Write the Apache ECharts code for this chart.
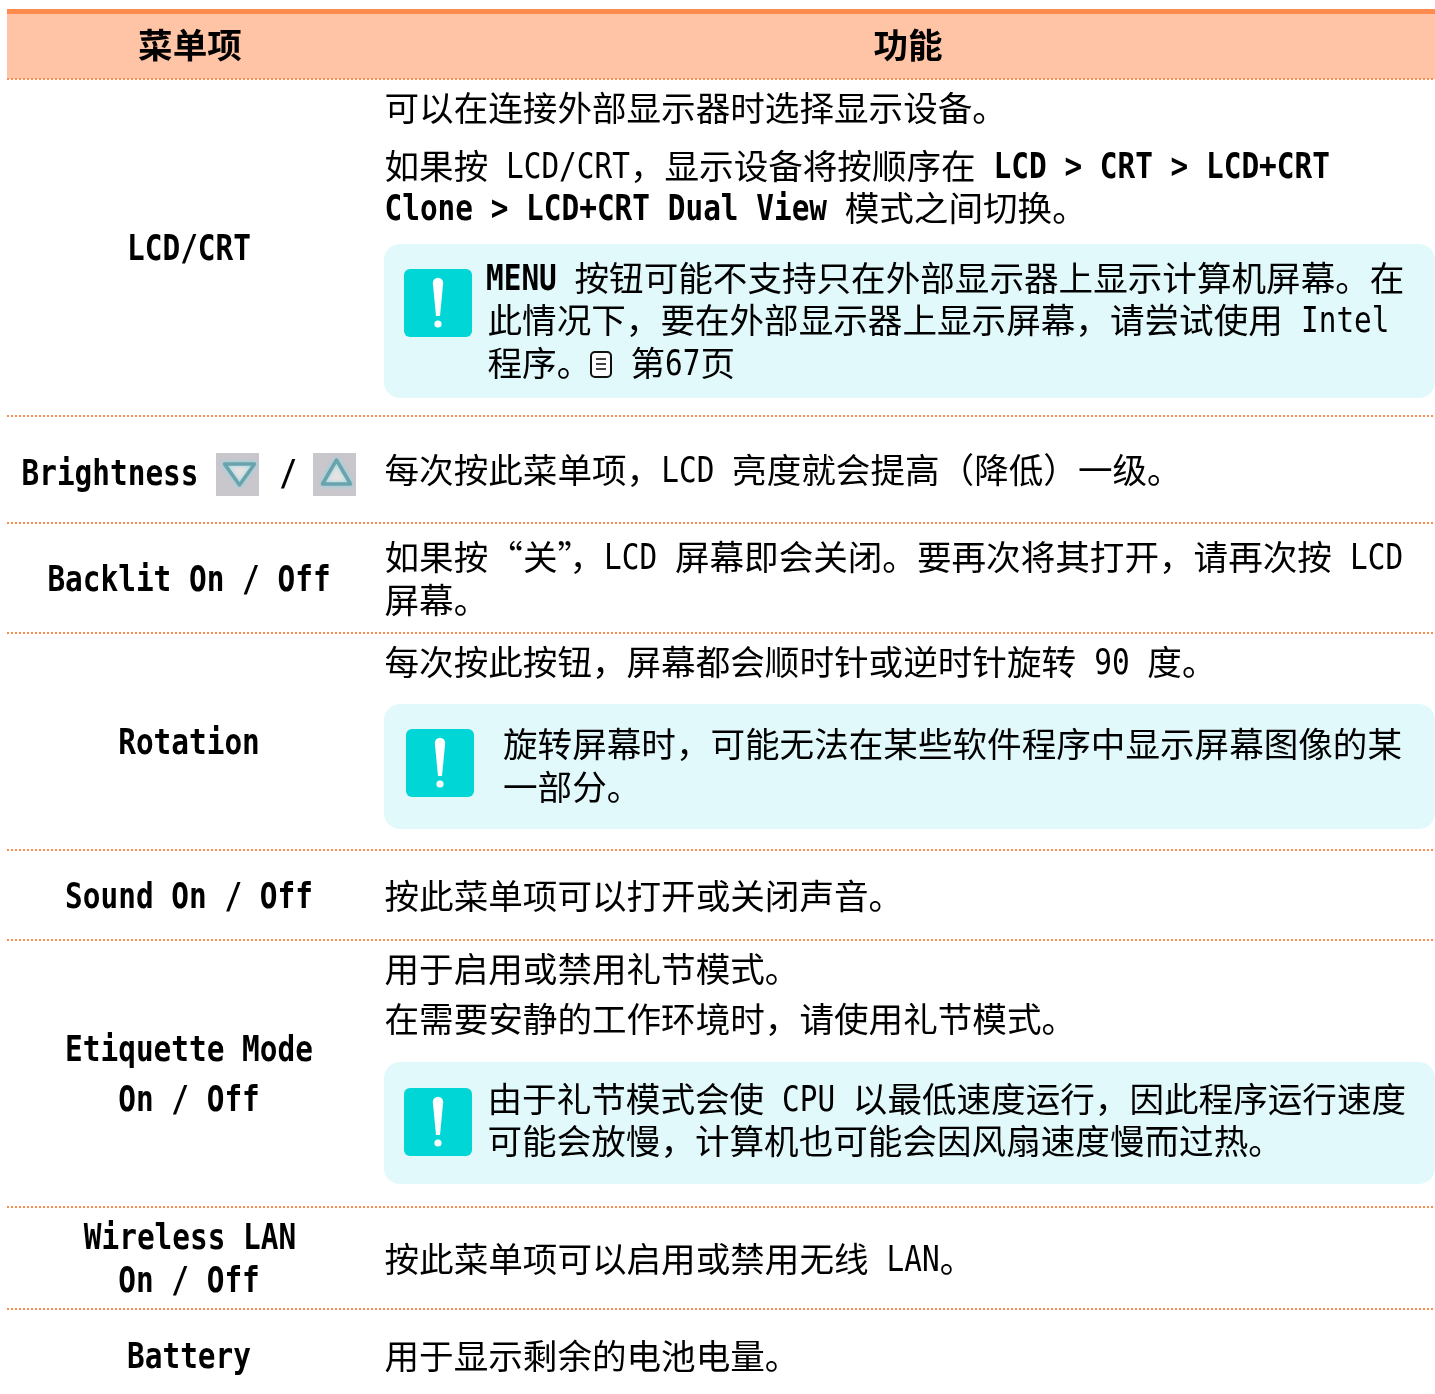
<!DOCTYPE html>
<html>
<head>
<meta charset="utf-8">
<title>menu table</title>
<style>
    html, body { margin: 0; padding: 0; background: #fff; }
    #main { width: 1435px; height: 1394px; }
</style>
<script src="https://cdn.jsdelivr.net/npm/echarts@6/dist/echarts.min.js"></script>
</head>
<body>
<div id="main"></div>
<script>
var headers = ['菜单项', '功能'];
var menuItems = ['LCD/CRT', 'Brightness', '/', 'Backlit On / Off', 'Rotation', 'Sound On / Off',
    'Etiquette Mode', 'On / Off', 'Wireless LAN', 'On / Off', 'Battery'];
var descLines = [
    '可以在连接外部显示器时选择显示设备。',
    '如果按 LCD/CRT，显示设备将按顺序在 LCD > CRT > LCD+CRT',
    'Clone > LCD+CRT Dual View 模式之间切换。',
    '每次按此菜单项，LCD 亮度就会提高（降低）一级。',
    '如果按“关”，LCD 屏幕即会关闭。要再次将其打开，请再次按 LCD',
    '屏幕。',
    '每次按此按钮，屏幕都会顺时针或逆时针旋转 90 度。',
    '按此菜单项可以打开或关闭声音。',
    '用于启用或禁用礼节模式。',
    '在需要安静的工作环境时，请使用礼节模式。',
    '按此菜单项可以启用或禁用无线 LAN。',
    '用于显示剩余的电池电量。'
];
var noteLines = [
    'MENU 按钮可能不支持只在外部显示器上显示计算机屏幕。在',
    '此情况下，要在外部显示器上显示屏幕，请尝试使用 Intel',
    '程序。',
    '第67页',
    '旋转屏幕时，可能无法在某些软件程序中显示屏幕图像的某',
    '一部分。',
    '由于礼节模式会使 CPU 以最低速度运行，因此程序运行速度',
    '可能会放慢，计算机也可能会因风扇速度慢而过热。'
];
var boldPhrases = ['LCD > CRT > LCD+CRT', 'Clone > LCD+CRT Dual View', 'MENU'];

// layout, kept apart from the text above
var menuCenterX = [189, 110, 288, 189, 189, 189, 189, 189, 190, 189, 189];
var menuY = [248, 473, 473, 579, 742, 896, 1049, 1099, 1237, 1280, 1356];
var descY = [108, 166, 208, 470, 557, 600, 662, 896, 969, 1019, 1259, 1356];
var noteX = [486, 487.5, 487.5, 630.5, 503, 503, 487.5, 487.5];
var noteY = [278, 320, 363, 363, 744, 787, 1099, 1141];
var ruleY = [79, 416, 523, 633, 850, 940, 1207, 1309];
var noteBoxes = [[244, 154], [704, 125], [1062, 122]];
var noteIcons = [[404, 269], [406, 729], [404, 1088]];

var ORANGE = '#ff8c4e';
var CJK_FONT = '"Noto Sans CJK SC"';
var LATIN_FONT = '"DejaVu Sans Mono"';
var CJK_SIZE = 34.6;
var LATIN_SIZE = 36;
var LATIN_ADV = 17.7;
var LATIN_DY = 3;
var QUOTE_ADV = { '“': 34.6, '”': 12 };

function isWide(ch) {
    return /[\u3000-\u30ff\u4e00-\u9fff\uff00-\uffef]/.test(ch);
}

// one text line -> runs of wide (CJK) or half width (latin) characters
function splitRuns(str, bold) {
    var runs = [];
    for (var i = 0; i < str.length; i++) {
        var wide = isWide(str[i]);
        var quote = !!QUOTE_ADV[str[i]];
        var last = runs[runs.length - 1];
        if (last && last.wide === wide && !quote && !last.quote) {
            last.text += str[i];
        } else {
            runs.push({ text: str[i], wide: wide, bold: bold, quote: quote });
        }
    }
    return runs;
}

function lineRuns(str, allBold) {
    if (allBold) return splitRuns(str, true);
    var runs = [];
    var rest = str;
    while (rest.length) {
        var hit = -1, phrase = '';
        boldPhrases.forEach(function (p) {
            var at = rest.indexOf(p);
            if (at >= 0 && (hit < 0 || at < hit)) { hit = at; phrase = p; }
        });
        if (hit < 0) {
            runs = runs.concat(splitRuns(rest, false));
            break;
        }
        runs = runs.concat(splitRuns(rest.slice(0, hit), false));
        runs = runs.concat(splitRuns(phrase, true));
        rest = rest.slice(hit + phrase.length);
    }
    return runs;
}

function runWidth(run) {
    if (run.quote) return QUOTE_ADV[run.text];
    if (run.wide) return run.text.length * CJK_SIZE;
    return run.text.length * LATIN_ADV;
}

function textEls(str, x, y, allBold) {
    var els = [];
    lineRuns(str, allBold).forEach(function (run) {
        var blank = !run.text.trim();
        if (!blank && (run.wide || run.quote)) {
            els.push({
                type: 'text', x: x, y: y,
                style: {
                    text: run.text, fill: '#000',
                    fontFamily: CJK_FONT, fontSize: CJK_SIZE, fontWeight: run.bold ? 'bold' : 'normal',
                    textAlign: 'left', textVerticalAlign: 'middle'
                }
            });
        } else if (!blank) {
            els.push({
                type: 'text', x: x, y: y + LATIN_DY,
                scaleX: LATIN_ADV / (LATIN_SIZE * 0.602),
                style: {
                    text: run.text, fill: '#000',
                    fontFamily: LATIN_FONT, fontSize: LATIN_SIZE, fontWeight: run.bold ? 'bold' : 'normal',
                    textAlign: 'left', textVerticalAlign: 'middle'
                }
            });
        }
        x += runWidth(run);
    });
    return els;
}

function centerEls(str, cx, y) {
    var w = 0;
    lineRuns(str, true).forEach(function (r) { w += runWidth(r); });
    return textEls(str, cx - w / 2, y, true);
}

function noteIcon(x, y) {
    return [
        { type: 'rect', shape: { x: x, y: y, width: 68, height: 68, r: 6 }, style: { fill: '#00d6d6' } },
        { type: 'circle', shape: { cx: x + 34, cy: y + 14, r: 5.2 }, style: { fill: '#fff' } },
        {
            type: 'polygon',
            shape: { points: [[x + 28.8, y + 14], [x + 39.2, y + 14], [x + 36, y + 47], [x + 32, y + 47]] },
            style: { fill: '#fff' }
        },
        { type: 'circle', shape: { cx: x + 34, cy: y + 55, r: 3.6 }, style: { fill: '#fff' } }
    ];
}

function arrowButton(x, y, down) {
    var pts = down ? [[x + 8.5, y + 11], [x + 38.5, y + 11], [x + 23.5, y + 32]]
                   : [[x + 9.5, y + 31], [x + 37.5, y + 31], [x + 23.5, y + 7]];
    return [
        { type: 'rect', shape: { x: x, y: y, width: 43, height: 43 }, style: { fill: '#c9c6cc' } },
        {
            type: 'polygon', shape: { points: pts },
            style: { fill: '#e8e2e2', stroke: '#6ba3ac', lineWidth: 3.5, lineJoin: 'round', shadowBlur: 4, shadowColor: '#8fd8e4' }
        }
    ];
}

function docIcon(x, y) {
    var els = [{ type: 'rect', shape: { x: x, y: y, width: 20, height: 25, r: 4 }, style: { fill: '#fff', stroke: '#111', lineWidth: 2 } }];
    [7, 12, 17].forEach(function (dy) {
        els.push({ type: 'line', shape: { x1: x + 5, y1: y + dy, x2: x + 15, y2: y + dy }, style: { stroke: '#111', lineWidth: 1.6 } });
    });
    return els;
}

var elements = [];
elements.push({ type: 'rect', shape: { x: 7, y: 9, width: 1428, height: 70 }, style: { fill: '#ffc3a5' } });
elements.push({ type: 'rect', shape: { x: 7, y: 9, width: 1428, height: 5 }, style: { fill: ORANGE } });

ruleY.forEach(function (y) {
    elements.push({
        type: 'line', shape: { x1: 7, y1: y, x2: 1435, y2: y },
        style: { stroke: ORANGE, lineWidth: 2, lineDash: [2, 2] }
    });
});

noteBoxes.forEach(function (b) {
    elements.push({ type: 'rect', shape: { x: 384, y: b[0], width: 1051, height: b[1], r: 16 }, style: { fill: '#e2f9fb' } });
});
noteIcons.forEach(function (p) { elements = elements.concat(noteIcon(p[0], p[1])); });

elements = elements.concat(arrowButton(216, 453, true), arrowButton(313, 453, false), docIcon(591, 352));

elements = elements.concat(centerEls(headers[0], 190, 45), centerEls(headers[1], 908, 45));
menuItems.forEach(function (t, i) {
    elements = elements.concat(centerEls(t, menuCenterX[i], menuY[i]));
});
descLines.forEach(function (t, i) {
    elements = elements.concat(textEls(t, 384.5, descY[i], false));
});
noteLines.forEach(function (t, i) {
    elements = elements.concat(textEls(t, noteX[i], noteY[i], false));
});

var chart = echarts.init(document.getElementById('main'), null, { renderer: 'canvas' });
chart.setOption({
    backgroundColor: '#fff',
    animation: false,
    graphic: { elements: elements }
});
</script>
</body>
</html>
